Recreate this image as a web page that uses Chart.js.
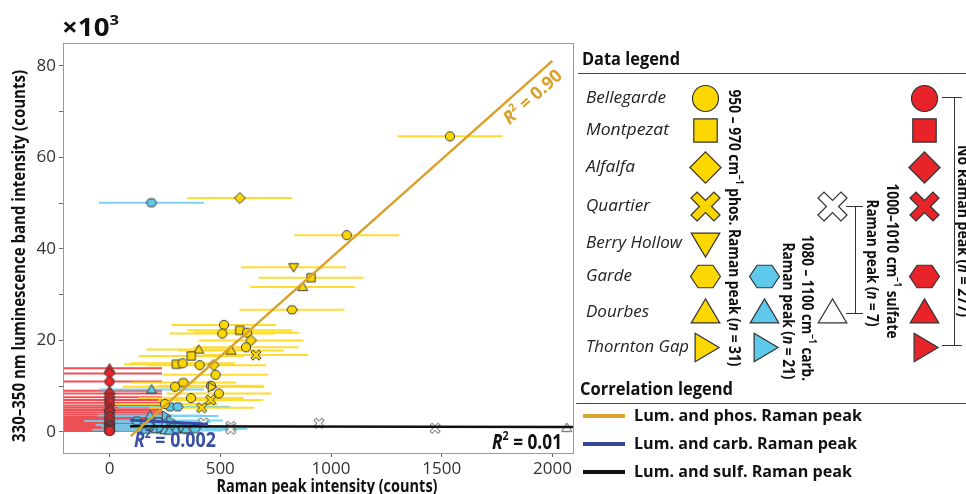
<!DOCTYPE html>
<html>
<head>
<meta charset="utf-8">
<script src="https://cdn.jsdelivr.net/npm/chart.js@4.4.1/dist/chart.umd.min.js"></script>
<style>
  html, body { margin: 0; padding: 0; background: #fff; }
  canvas { display: block; }
</style>
</head>
<body>
<canvas id="lumChart" width="966" height="494"></canvas>
<script>
// ---- data (x: Raman counts, y: luminescence x10^3 counts) ----
const phosSite = ['Bellegarde', 'Alfalfa', 'Bellegarde', 'Berry Hollow', 'Montpezat', 'Dourbes', 'Garde', 'Bellegarde',
    'Bellegarde', 'Montpezat', 'Bellegarde', 'Alfalfa', 'Bellegarde', 'Quartier', 'Dourbes', 'Dourbes', 'Montpezat',
    'Montpezat', 'Bellegarde', 'Bellegarde', 'Alfalfa', 'Bellegarde', 'Bellegarde', 'Garde', 'Bellegarde', 'Bellegarde',
    'Bellegarde', 'Quartier', 'Quartier', 'Bellegarde', 'Thornton Gap'];
const phosX = [1537, 588, 1071, 831, 910, 872, 824, 517, 509, 588, 621, 639, 616, 661, 403, 549, 369, 302, 330, 407,
    470, 479, 296, 333, 368, 458, 494, 457, 416, 250, 462];
const phosY = [64.6, 51.1, 43.0, 36.0, 33.7, 31.7, 26.7, 23.4, 21.5, 22.2, 21.7, 20.0, 18.5, 16.8, 18.0, 17.8, 16.6,
    14.8, 15.0, 14.6, 14.6, 12.5, 9.9, 10.8, 7.4, 10.1, 8.4, 7.0, 5.3, 6.1, 9.8];

const carbSite = ['Garde', 'Dourbes', 'Garde', 'Garde', 'Dourbes', 'Thornton Gap', 'Garde', 'Thornton Gap', 'Thornton Gap',
    'Dourbes', 'Dourbes', 'Thornton Gap', 'Dourbes', 'Thornton Gap', 'Dourbes', 'Thornton Gap', 'Dourbes', 'Garde',
    'Garde', 'Dourbes', 'Garde'];
const carbX = [189, 190, 273, 308, 183, 255, 123, 275, 200, 160, 210, 230, 250, 290, 300, 330, 345, 386, 175, 270, 220];
const carbY = [50.1, 9.3, 5.5, 5.5, 3.6, 3.5, 2.4, 2.5, 1.2, 0.5, 0.6, 0.8, 0.4, 1.0, 0.5, 1.0, 0.6, 0.7, 1.5, 0.3, 2.2];

const sulfSite = ['Quartier', 'Quartier', 'Quartier', 'Quartier', 'Quartier', 'Dourbes', 'Dourbes'];
const sulfX = [424, 547, 547, 946, 1470, 356, 2064];
const sulfY = [2.0, 1.2, 0.6, 1.9, 0.8, 0.4, 0.9];

const noneSite = ['Dourbes', 'Alfalfa', 'Bellegarde', 'Dourbes', 'Alfalfa', 'Garde', 'Alfalfa', 'Bellegarde',
    'Thornton Gap', 'Quartier', 'Garde', 'Bellegarde', 'Quartier', 'Montpezat', 'Quartier', 'Bellegarde', 'Quartier',
    'Garde', 'Bellegarde', 'Montpezat', 'Bellegarde', 'Thornton Gap', 'Bellegarde', 'Quartier', 'Garde', 'Bellegarde',
    'Bellegarde'];
const noneX = [0, 0, 0, 0, 0, 0, 0, 0, 0, 0, 0, 0, 0, 0, 0, 0, 0, 0, 0, 0, 0, 0, 0, 0, 0, 0, 0];
const noneY = [13.9, 12.8, 11.0, 9.0, 8.4, 7.6, 7.0, 6.4, 5.8, 5.3, 4.8, 4.3, 3.8, 3.3, 2.9, 2.5, 2.1, 1.8, 1.5, 1.2,
    1.0, 0.8, 0.6, 0.5, 0.4, 0.3, 0.2];

// horizontal error (Raman counts), same size on every point
const ramanErr = 237;

// regression lines (end points)
const phosFitX = [96, 1999];
const phosFitY = [-0.9, 81.1];
const carbFitX = [93, 445];
const carbFitY = [2.6, 1.7];
const sulfFitX = [93, 2097];
const sulfFitY = [1.25, 1.1];

const xTicks = [0, 500, 1000, 1500, 2000];
const yTicks = [0, 10, 20, 30, 40, 50, 60, 70, 80];
const yLabelled = [0, 20, 40, 60, 80];

const sites = ['Bellegarde', 'Montpezat', 'Alfalfa', 'Quartier', 'Berry Hollow', 'Garde', 'Dourbes', 'Thornton Gap'];
const siteShape = {
    'Bellegarde': 'circle', 'Montpezat': 'square', 'Alfalfa': 'diamond', 'Quartier': 'cross',
    'Berry Hollow': 'invtri', 'Garde': 'hexagon', 'Dourbes': 'triangle', 'Thornton Gap': 'righttri'
};

const YELLOW = '#FDD700', BLUE = '#5EC9EB', RED = '#E8232A', WHITE = '#FFFFFF';
const SANS = "'Open Sans', 'Liberation Sans', sans-serif";
const NARROW = "'Liberation Sans Narrow', 'Open Sans', sans-serif";

function makeMarker(shape, fill, stroke, r, lw) {
    const size = Math.ceil(r * 3) + 2;
    const c = document.createElement('canvas');
    c.width = size;
    c.height = size;
    const g = c.getContext('2d');
    const m = size / 2;
    let pts = null;
    g.beginPath();
    if (shape === 'circle') {
        g.arc(m, m, r, 0, Math.PI * 2);
    } else if (shape === 'square') {
        const h = r * 0.9;
        g.rect(m - h, m - h, 2 * h, 2 * h);
    } else if (shape === 'diamond') {
        const d = r * 1.2;
        pts = [[0, -d], [d, 0], [0, d], [-d, 0]];
    } else if (shape === 'triangle') {
        pts = [[0, -r * 1.05], [r * 1.1, r * 0.8], [-r * 1.1, r * 0.8]];
    } else if (shape === 'invtri') {
        pts = [[-r * 1.1, -r * 0.8], [r * 1.1, -r * 0.8], [0, r * 1.05]];
    } else if (shape === 'righttri') {
        pts = [[-r * 0.8, -r * 1.1], [r * 1.05, 0], [-r * 0.8, r * 1.1]];
    } else if (shape === 'hexagon') {
        pts = [];
        for (let k = 0; k < 6; k++) {
            const a = k * Math.PI / 3;
            pts.push([r * 1.15 * Math.cos(a), r * Math.sin(a)]);
        }
    } else if (shape === 'cross') {
        const L = r * 1.25, w = r * 0.33;
        const plus = [[w, L], [w, w], [L, w], [L, -w], [w, -w], [w, -L], [-w, -L], [-w, -w], [-L, -w], [-L, w], [-w, w], [-w, L]];
        const ca = Math.cos(Math.PI / 4), sa = Math.sin(Math.PI / 4);
        pts = plus.map(p => [p[0] * ca - p[1] * sa, p[0] * sa + p[1] * ca]);
    }
    if (pts) {
        pts.forEach((p, i) => i ? g.lineTo(m + p[0], m + p[1]) : g.moveTo(m + p[0], m + p[1]));
        g.closePath();
    }
    g.fillStyle = fill;
    g.fill();
    g.lineWidth = lw;
    g.strokeStyle = stroke;
    g.stroke();
    return c;
}

function markerSet(fill, stroke, r, lw) {
    const out = {};
    sites.forEach(s => { out[s] = makeMarker(siteShape[s], fill, stroke, r, lw); });
    return out;
}

const plotMarks = {
    phos: markerSet(YELLOW, '#3a3a3a', 4.6, 1),
    carb: markerSet(BLUE, '#3a3a3a', 4.6, 1),
    sulf: markerSet(WHITE, '#555', 4.6, 1),
    none: markerSet(RED, '#3a3a3a', 4.6, 1)
};
const legendMarks = {
    phos: markerSet(YELLOW, '#333', 13, 1.2),
    carb: markerSet(BLUE, '#333', 13, 1.2),
    sulf: markerSet(WHITE, '#333', 13, 1.2),
    none: markerSet(RED, '#333', 13, 1.2)
};

function points(xs, ys) {
    return xs.map((x, i) => ({ x: x, y: ys[i] }));
}

function errSegments(xs, ys) {
    const out = [];
    xs.forEach((x, i) => {
        out.push({ x: x - ramanErr, y: ys[i] }, { x: x + ramanErr, y: ys[i] }, { x: x, y: null });
    });
    return out;
}

function markerDataset(xs, ys, siteArr, marks) {
    return {
        data: points(xs, ys),
        pointStyle: ctx => (ctx.dataIndex !== undefined ? marks[siteArr[ctx.dataIndex]] : 'circle'),
        pointRadius: 5,
        borderWidth: 0,
        showLine: false
    };
}

function lineDataset(data, color, width) {
    return {
        data: data,
        showLine: true,
        borderColor: color,
        borderWidth: width,
        pointRadius: 0,
        spanGaps: false,
        fill: false,
        clip: 0
    };
}

// ---- text helpers ----
function runFont(r, size, fam) {
    const s = r.sup ? Math.round(size * 0.6) : size;
    return (r.italic ? 'italic ' : '') + (r.light ? '' : 'bold ') + s + 'px ' + fam;
}

function drawRuns(ctx, runs, x, y, o) {
    const size = o.size, fam = o.family || NARROW;
    ctx.save();
    ctx.translate(x, y);
    if (o.rot) ctx.rotate(o.rot);
    let nat = 0;
    runs.forEach(r => { ctx.font = runFont(r, size, fam); nat += ctx.measureText(r.t).width; });
    const sx = o.width ? o.width / nat : 1;
    const total = nat * sx;
    const start = o.align === 'center' ? -total / 2 : (o.align === 'right' ? -total : 0);
    ctx.scale(sx, 1);
    let cx = start / sx;
    ctx.textBaseline = 'middle';
    ctx.textAlign = 'left';
    ctx.fillStyle = o.color || '#111';
    runs.forEach(r => {
        ctx.font = runFont(r, size, fam);
        ctx.fillText(r.t, cx, r.sup ? -size * 0.32 : 0);
        cx += ctx.measureText(r.t).width;
    });
    ctx.restore();
}

function r2Runs(val) {
    return [{ t: 'R', italic: true }, { t: '2', sup: true }, { t: ' = ' + val }];
}

function hline(ctx, x1, x2, y) {
    ctx.beginPath();
    ctx.moveTo(x1, y);
    ctx.lineTo(x2, y);
    ctx.stroke();
}

function vline(ctx, x, y1, y2) {
    ctx.beginPath();
    ctx.moveTo(x, y1);
    ctx.lineTo(x, y2);
    ctx.stroke();
}

const framePlugin = {
    id: 'frame',
    afterDraw(chart) {
        const { ctx, chartArea: a, scales } = chart;
        ctx.save();
        ctx.strokeStyle = '#9a9a9a';
        ctx.lineWidth = 1;
        ctx.strokeRect(a.left + 0.5, a.top + 0.5, a.right - a.left - 1, a.bottom - a.top);

        // axis titles
        drawRuns(ctx, [{ t: '×10' }, { t: '3', sup: true }], 62, 29, { size: 25, width: 57, color: '#111' });
        drawRuns(ctx, [{ t: '330–350 nm luminescence band intensity (counts)' }], 20, 256,
            { size: 18, width: 372, align: 'center', rot: -Math.PI / 2 });
        drawRuns(ctx, [{ t: 'Raman peak intensity (counts)' }], 327, 487, { size: 18, width: 221, align: 'center' });

        // R^2 labels
        const xs = scales.x, ys = scales.y;
        const p1x = xs.getPixelForValue(phosFitX[0]), p1y = ys.getPixelForValue(phosFitY[0]);
        const p2x = xs.getPixelForValue(phosFitX[1]), p2y = ys.getPixelForValue(phosFitY[1]);
        const ang = Math.atan2(p2y - p1y, p2x - p1x);
        drawRuns(ctx, r2Runs('0.90'), xs.getPixelForValue(1912), ys.getPixelForValue(73.1),
            { size: 18, width: 72, align: 'center', rot: ang, color: '#D9A02A' });
        drawRuns(ctx, r2Runs('0.002'), xs.getPixelForValue(110), ys.getPixelForValue(-2.0),
            { size: 22, width: 82, color: '#3A50A6' });
        drawRuns(ctx, r2Runs('0.01'), xs.getPixelForValue(2043), ys.getPixelForValue(-2.4),
            { size: 21, width: 70, align: 'right', color: '#111' });
        ctx.restore();
    }
};

const legendPlugin = {
    id: 'sideLegend',
    afterDraw(chart) {
        const ctx = chart.ctx;
        ctx.save();
        ctx.strokeStyle = '#444';
        ctx.lineWidth = 1;

        drawRuns(ctx, [{ t: 'Data legend' }], 582, 60, { size: 17, width: 98, color: '#111', family: SANS });
        hline(ctx, 578, 966, 73.5);

        const rowY = [98, 130, 167, 206, 243, 276, 312, 347];
        const nameW = [80, 83, 49, 64, 96, 46, 63, 103];
        sites.forEach((s, i) => {
            drawRuns(ctx, [{ t: s, italic: true, light: true }], 586, rowY[i], { size: 16, width: nameW[i], family: SANS, color: '#222' });
        });

        const drawMark = (img, x, y) => ctx.drawImage(img, Math.round(x - img.width / 2), Math.round(y - img.height / 2));
        sites.forEach((s, i) => drawMark(legendMarks.phos[s], 705, rowY[i]));
        ['Garde', 'Dourbes', 'Thornton Gap'].forEach(s => drawMark(legendMarks.carb[s], 764, rowY[sites.indexOf(s)]));
        ['Quartier', 'Dourbes'].forEach(s => drawMark(legendMarks.sulf[s], 832, rowY[sites.indexOf(s)]));
        sites.filter(s => s !== 'Berry Hollow').forEach(s => drawMark(legendMarks.none[s], 924, rowY[sites.indexOf(s)]));

        const rot = Math.PI / 2;
        drawRuns(ctx, [{ t: '950 – 970 cm' }, { t: '−1', sup: true }, { t: ' phos. Raman peak (' }, { t: 'n', italic: true }, { t: ' = 31)' }],
            734, 228, { size: 16, width: 277, align: 'center', rot: rot, family: SANS });
        drawRuns(ctx, [{ t: '1080 – 1100 cm' }, { t: '−1', sup: true }, { t: ' carb.' }],
            807, 308, { size: 16, width: 146, align: 'center', rot: rot, family: SANS });
        drawRuns(ctx, [{ t: 'Raman peak (' }, { t: 'n', italic: true }, { t: ' = 21)' }],
            788, 311, { size: 16, width: 137, align: 'center', rot: rot, family: SANS });
        drawRuns(ctx, [{ t: '1000–1010 cm' }, { t: '−1', sup: true }, { t: ' sulfate' }],
            892, 261, { size: 16, width: 155, align: 'center', rot: rot, family: SANS });
        drawRuns(ctx, [{ t: 'Raman peak (' }, { t: 'n', italic: true }, { t: ' = 7)' }],
            872, 263, { size: 16, width: 127, align: 'center', rot: rot, family: SANS });
        drawRuns(ctx, [{ t: 'No Raman peak (' }, { t: 'n', italic: true }, { t: ' = 277)' }],
            963, 231, { size: 16, width: 172, align: 'center', rot: rot, family: SANS });

        // brackets
        ctx.strokeStyle = '#333';
        vline(ctx, 855.5, 206, 314);
        hline(ctx, 846, 863, 206.5);
        hline(ctx, 846, 863, 313.5);
        vline(ctx, 954.5, 97, 345);
        hline(ctx, 942, 962, 97.5);
        hline(ctx, 942, 962, 345.5);

        drawRuns(ctx, [{ t: 'Correlation legend' }], 580, 390, { size: 17, width: 153, color: '#111', family: SANS });
        ctx.strokeStyle = '#444';
        hline(ctx, 576, 966, 403.5);

        const corr = [['#DDA52A', 'Lum. and phos. Raman peak', 416, 228],
                      ['#3448A0', 'Lum. and carb. Raman peak', 444, 223],
                      ['#111111', 'Lum. and sulf. Raman peak', 472, 218]];
        corr.forEach(c => {
            ctx.strokeStyle = c[0];
            ctx.lineWidth = 4;
            hline(ctx, 583, 625, c[2]);
            drawRuns(ctx, [{ t: c[1] }], 634, c[2], { size: 16, width: c[3], color: '#111', family: SANS });
        });
        ctx.restore();
    }
};

const ctx = document.getElementById('lumChart').getContext('2d');
new Chart(ctx, {
    type: 'scatter',
    data: {
        datasets: [
            lineDataset(points(phosFitX, phosFitY), '#D9A02A', 2.5),
            lineDataset(points(carbFitX, carbFitY), '#3A4DA5', 3),
            lineDataset(points(sulfFitX, sulfFitY), '#111111', 2.5),
            markerDataset(phosX, phosY, phosSite, plotMarks.phos),
            markerDataset(carbX, carbY, carbSite, plotMarks.carb),
            markerDataset(sulfX, sulfY, sulfSite, plotMarks.sulf),
            markerDataset(noneX, noneY, noneSite, plotMarks.none),
            lineDataset(errSegments(phosX, phosY), 'rgba(255, 214, 10, 0.85)', 2),
            lineDataset(errSegments(carbX, carbY), 'rgba(110, 205, 240, 0.9)', 2),
            lineDataset(errSegments(noneX, noneY), 'rgba(232, 35, 42, 0.8)', 2)
        ]
    },
    options: {
        responsive: false,
        animation: false,
        events: [],
        layout: { padding: { left: 0, right: 392, top: 43, bottom: 0 } },
        plugins: { legend: { display: false }, tooltip: { enabled: false } },
        scales: {
            x: {
                type: 'linear',
                min: -210,
                max: 2097,
                afterBuildTicks: s => { s.ticks = xTicks.map(v => ({ value: v })); },
                afterFit: s => { s.height = 41; },
                ticks: {
                    font: { family: SANS, size: 17 }, color: '#333', padding: 2, maxRotation: 0, autoSkip: false,
                    callback: v => String(v)
                },
                grid: { drawOnChartArea: false, tickLength: 4, color: '#666' },
                border: { display: false }
            },
            y: {
                type: 'linear',
                min: -4.6,
                max: 85,
                afterBuildTicks: s => { s.ticks = yTicks.map(v => ({ value: v })); },
                afterFit: s => { s.width = 63; },
                ticks: {
                    font: { family: SANS, size: 17 }, color: '#333', padding: 3, autoSkip: false,
                    callback: v => (yLabelled.includes(v) ? String(v) : '')
                },
                grid: { drawOnChartArea: false, tickLength: 4, color: '#666' },
                border: { display: false }
            }
        }
    },
    plugins: [framePlugin, legendPlugin]
});
</script>
</body>
</html>
